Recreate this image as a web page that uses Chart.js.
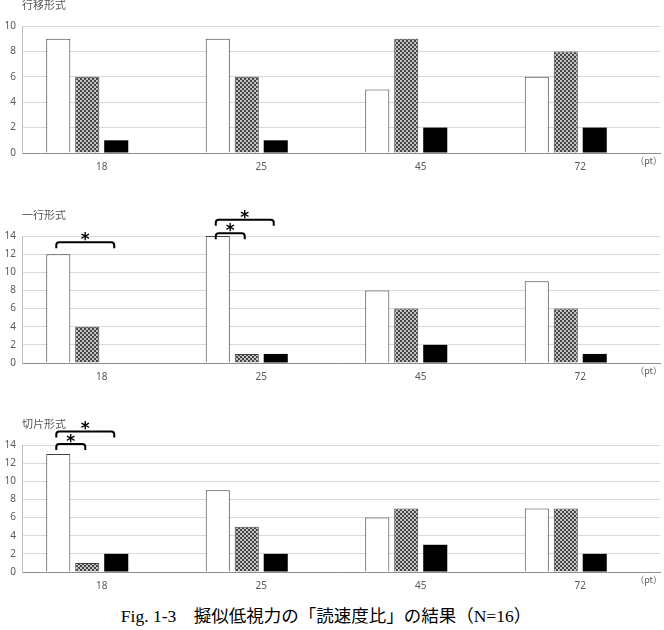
<!DOCTYPE html>
<html>
<head>
<meta charset="utf-8">
<script src="https://cdn.jsdelivr.net/npm/chart.js@4.4.0/dist/chart.umd.min.js"></script>
<style>
  html, body { margin: 0; padding: 0; background: #fff; }
  body { width: 664px; height: 630px; position: relative; overflow: hidden; }
  .panel { position: absolute; left: 0; width: 664px; height: 177px; }
  #caption { position: absolute; left: 0; width: 652px; top: 602px; text-align: center;
    font-family: "Liberation Serif", "Noto Sans CJK JP", serif; font-size: 17.5px; color: #000; }
</style>
</head>
<body>
<div class="panel" style="top:0px"><canvas id="c0"></canvas></div>
<div class="panel" style="top:210px"><canvas id="c1"></canvas></div>
<div class="panel" style="top:419px"><canvas id="c2"></canvas></div>
<div id="caption">Fig. 1-3　擬似低視力の「読速度比」の結果（N=16）</div>
<script>
  // data
  var categories = ['18', '25', '45', '72'];
  var panelTitles = ['行移形式', '一行形式', '切片形式'];
  var whiteValues = [[9, 9, 5, 6], [12, 14, 8, 9], [13, 9, 6, 7]];
  var hatchValues = [[6, 6, 9, 8], [4, 1, 6, 6], [1, 5, 7, 7]];
  var blackValues = [[1, 1, 2, 2], [0, 1, 2, 1], [2, 2, 3, 2]];
  var yMax = [10, 14, 14];
  var yStep = 2;
  // significance brackets: category index, from series, to series, height (in axis units)
  var bracketCats = [[], [0, 1, 1], [0, 0]];
  var bracketFrom = [[], [0, 0, 0], [0, 0]];
  var bracketTo = [[], [2, 1, 2], [1, 2]];
  var bracketLevel = [[], [13.3, 14.3, 15.8], [14.1, 15.5]];

  var grey = '#595959';

  function makeHatch() {
    var c = document.createElement('canvas');
    c.width = 4; c.height = 4;
    var g = c.getContext('2d');
    g.fillStyle = '#444';
    g.fillRect(0, 0, 4, 4);
    g.fillStyle = '#c4c4c4';
    g.fillRect(0, 0, 2, 2);
    g.fillRect(2, 2, 2, 2);
    return g.createPattern(c, 'repeat');
  }
  var hatch = makeHatch();

  var panelDecor = {
    id: 'panelDecor',
    afterDraw: function(chart, args, opts) {
      var ctx = chart.ctx;
      var area = chart.chartArea;
      ctx.save();
      ctx.fillStyle = grey;
      ctx.font = '11px "Noto Sans CJK JP"';
      ctx.textBaseline = 'middle';
      ctx.textAlign = 'left';
      ctx.fillText(opts.title, area.left, area.top - 21);
      ctx.font = '9px "Noto Sans CJK JP"';
      ctx.textAlign = 'right';
      ctx.fillText('（pt）', area.right + 2, area.bottom + 8);

      var ys = chart.scales.y;
      ctx.strokeStyle = '#000';
      ctx.fillStyle = '#000';
      ctx.lineWidth = 2;
      for (var i = 0; i < opts.cats.length; i++) {
        var x1 = chart.getDatasetMeta(opts.from[i]).data[opts.cats[i]].x - 2;
        var x2 = chart.getDatasetMeta(opts.to[i]).data[opts.cats[i]].x - 2;
        var y = ys.getPixelForValue(opts.levels[i]);
        var r = 3, leg = 6;
        ctx.beginPath();
        ctx.moveTo(x1, y + leg);
        ctx.arcTo(x1, y, x1 + r, y, r);
        ctx.arcTo(x2, y, x2, y + r, r);
        ctx.lineTo(x2, y + leg);
        ctx.stroke();
        ctx.font = 'bold 17px "DejaVu Sans"';
        ctx.textAlign = 'center';
        ctx.textBaseline = 'alphabetic';
        ctx.fillText('*', (x1 + x2) / 2, y + 3);
        ctx.textBaseline = 'middle';
      }
      ctx.restore();
    }
  };

  var tickFont = { family: 'Noto Sans', size: 10 };

  for (var p = 0; p < 3; p++) {
    var ctx = document.getElementById('c' + p).getContext('2d');
    new Chart(ctx, {
      type: 'bar',
      data: {
        labels: categories,
        datasets: [
          { data: whiteValues[p], backgroundColor: '#fff', borderColor: '#404040', borderWidth: 1 },
          { data: hatchValues[p], backgroundColor: hatch, borderColor: '#404040', borderWidth: 1 },
          { data: blackValues[p], backgroundColor: '#000', borderWidth: 0 },
          { data: [null, null, null, null], backgroundColor: '#fff' }
        ]
      },
      options: {
        responsive: true,
        maintainAspectRatio: false,
        animation: false,
        layout: { padding: { top: 26, right: 4, left: 0, bottom: 0 } },
        datasets: { bar: { categoryPercentage: 0.727, barPercentage: 0.83 } },
        plugins: {
          legend: { display: false },
          tooltip: { enabled: false },
          panelDecor: {
            title: panelTitles[p],
            cats: bracketCats[p],
            from: bracketFrom[p],
            to: bracketTo[p],
            levels: bracketLevel[p]
          }
        },
        scales: {
          x: {
            ticks: { padding: 8, color: grey, font: tickFont },
            grid: { display: false, drawTicks: false },
            border: { display: true, color: '#8c8c8c' },
            afterFit: function(s) { s.height = 24; }
          },
          y: {
            min: 0,
            max: yMax[p],
            ticks: { stepSize: yStep, padding: 6, color: grey, font: tickFont },
            grid: { color: '#d9d9d9', drawTicks: false },
            border: { display: true, color: '#bfbfbf' },
            afterFit: function(s) { s.width = 22; }
          }
        }
      },
      plugins: [panelDecor]
    });
  }
</script>
</body>
</html>
